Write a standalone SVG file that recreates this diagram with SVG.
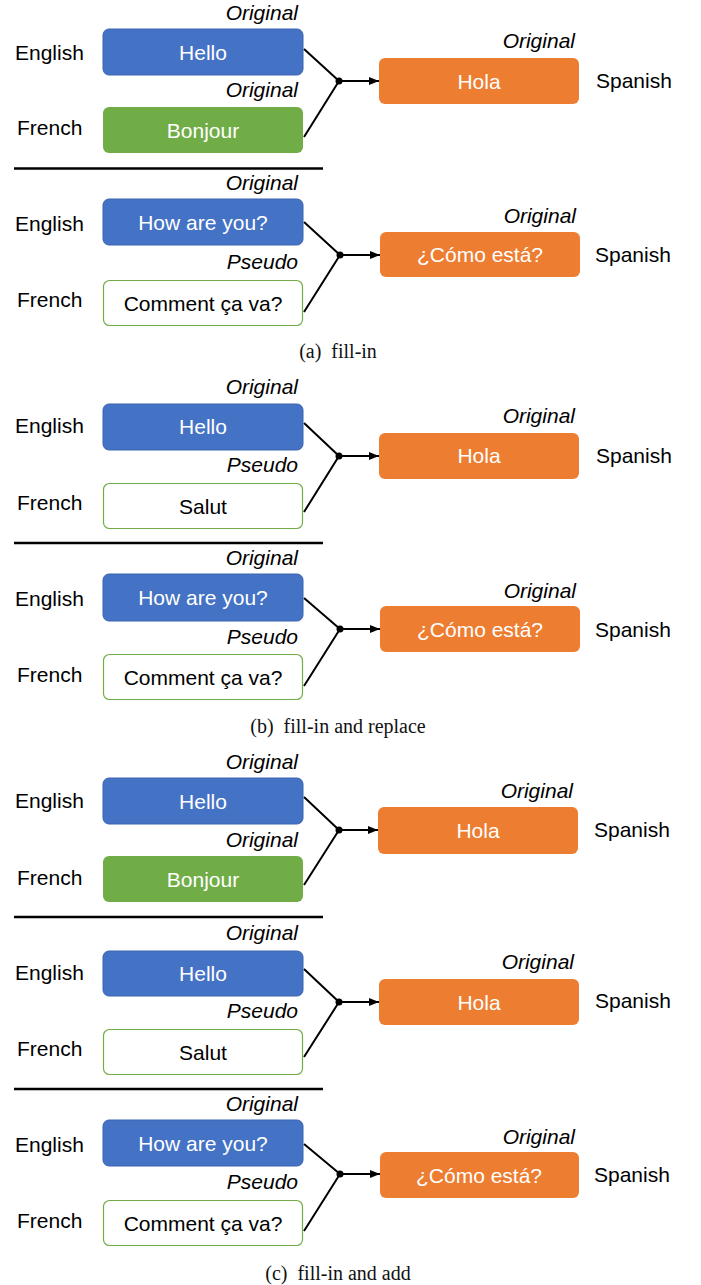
<svg xmlns="http://www.w3.org/2000/svg" width="701" height="1285" viewBox="0 0 701 1285">
<defs>
<style>
text{font-family:"Liberation Sans",Arial,sans-serif;font-size:21px;fill:#000}
.tag{font-style:italic;text-anchor:end}
.bt{text-anchor:middle;fill:#fff}
.bk{text-anchor:middle;fill:#000}
.blue{fill:#4472C4;stroke:#3A64B0;stroke-width:1}
.green{fill:#70AD47}
.ghost{fill:#fff;stroke:#70AD47;stroke-width:1.2}
.orange{fill:#ED7D31}
.conn{stroke:#000;stroke-width:2;fill:none}
.arr{stroke:#000;stroke-width:2;fill:none;marker-end:url(#ah)}
.sep{stroke:#000;stroke-width:2.5}
.cap{font-family:"Liberation Serif","Times New Roman",serif;font-size:20px;text-anchor:middle;fill:#111}
</style>
<marker id="ah" markerUnits="userSpaceOnUse" markerWidth="10" markerHeight="8" refX="10" refY="4" orient="auto">
<path d="M0,0 L10,4 L0,8 z" fill="#000"/>
</marker>
</defs>

<!-- separators -->
<g id="separators">
<line class="sep" x1="14" y1="168.5" x2="323" y2="168.5"/>
<line class="sep" x1="14" y1="543" x2="323" y2="543"/>
<line class="sep" x1="14" y1="917" x2="323" y2="917"/>
<line class="sep" x1="14" y1="1089" x2="323" y2="1089"/>
</g>

<!-- ===== Panel a1 ===== -->
<g id="a1-english"><text x="15" y="60">English</text></g>
<g id="a1-hello"><rect class="blue" x="103" y="29" width="200" height="46" rx="6"/><text class="bt" x="203" y="60">Hello</text><text class="tag" x="298" y="20">Original</text></g>
<g id="a1-french"><text x="17" y="135">French</text></g>
<g id="a1-bonjour"><rect class="green" x="103" y="107" width="200" height="46" rx="6"/><text class="bt" x="203" y="138">Bonjour</text><text class="tag" x="298" y="97">Original</text></g>
<g id="a1-hola"><rect class="orange" x="379" y="58" width="200" height="46" rx="6"/><text class="bt" x="479" y="89">Hola</text><text class="tag" x="575" y="48">Original</text></g>
<g id="a1-spanish"><text x="596" y="88">Spanish</text></g>

<!-- ===== Panel a2 ===== -->
<g id="a2-english"><text x="15" y="231">English</text></g>
<g id="a2-how"><rect class="blue" x="103" y="199" width="200" height="46" rx="6"/><text class="bt" x="203" y="230">How are you?</text><text class="tag" x="298" y="190">Original</text></g>
<g id="a2-french"><text x="17" y="307">French</text></g>
<g id="a2-comment"><rect class="ghost" x="103.5" y="280.5" width="199" height="45" rx="6"/><text class="bk" x="203" y="311">Comment ça va?</text><text class="tag" x="298" y="269">Pseudo</text></g>
<g id="a2-como"><rect class="orange" x="380" y="232" width="200" height="45" rx="6"/><text class="bt" x="480" y="262">¿Cómo está?</text><text class="tag" x="576" y="223">Original</text></g>
<g id="a2-spanish"><text x="595" y="262">Spanish</text></g>

<g id="cap-a"><text class="cap" x="338" y="358">(a)&#160; fill-in</text></g>

<!-- ===== Panel b1 ===== -->
<g id="b1-english"><text x="15" y="433">English</text></g>
<g id="b1-hello"><rect class="blue" x="103" y="404" width="200" height="46" rx="6"/><text class="bt" x="203" y="434">Hello</text><text class="tag" x="298" y="394">Original</text></g>
<g id="b1-french"><text x="17" y="510">French</text></g>
<g id="b1-salut"><rect class="ghost" x="103.5" y="483.5" width="199" height="45" rx="6"/><text class="bk" x="203" y="514">Salut</text><text class="tag" x="298" y="472">Pseudo</text></g>
<g id="b1-hola"><rect class="orange" x="379" y="433" width="200" height="46" rx="6"/><text class="bt" x="479" y="463">Hola</text><text class="tag" x="575" y="423">Original</text></g>
<g id="b1-spanish"><text x="596" y="463">Spanish</text></g>

<!-- ===== Panel b2 ===== -->
<g id="b2-english"><text x="15" y="606">English</text></g>
<g id="b2-how"><rect class="blue" x="103" y="574" width="200" height="47" rx="6"/><text class="bt" x="203" y="605">How are you?</text><text class="tag" x="298" y="565">Original</text></g>
<g id="b2-french"><text x="17" y="682">French</text></g>
<g id="b2-comment"><rect class="ghost" x="103.5" y="654.5" width="199" height="45" rx="6"/><text class="bk" x="203" y="685">Comment ça va?</text><text class="tag" x="298" y="644">Pseudo</text></g>
<g id="b2-como"><rect class="orange" x="380" y="606" width="200" height="46" rx="6"/><text class="bt" x="480" y="637">¿Cómo está?</text><text class="tag" x="576" y="598">Original</text></g>
<g id="b2-spanish"><text x="595" y="637">Spanish</text></g>

<g id="cap-b"><text class="cap" x="338" y="733">(b)&#160; fill-in and replace</text></g>

<!-- ===== Panel c1 ===== -->
<g id="c1-english"><text x="15" y="808">English</text></g>
<g id="c1-hello"><rect class="blue" x="103" y="778" width="200" height="46" rx="6"/><text class="bt" x="203" y="809">Hello</text><text class="tag" x="298" y="769">Original</text></g>
<g id="c1-french"><text x="17" y="885">French</text></g>
<g id="c1-bonjour"><rect class="green" x="103" y="856" width="200" height="46" rx="6"/><text class="bt" x="203" y="887">Bonjour</text><text class="tag" x="298" y="847">Original</text></g>
<g id="c1-hola"><rect class="orange" x="378" y="807" width="200" height="47" rx="6"/><text class="bt" x="478" y="838">Hola</text><text class="tag" x="573" y="798">Original</text></g>
<g id="c1-spanish"><text x="594" y="837">Spanish</text></g>

<!-- ===== Panel c2 ===== -->
<g id="c2-english"><text x="15" y="980">English</text></g>
<g id="c2-hello"><rect class="blue" x="103" y="951" width="200" height="45" rx="6"/><text class="bt" x="203" y="981">Hello</text><text class="tag" x="298" y="940">Original</text></g>
<g id="c2-french"><text x="17" y="1056">French</text></g>
<g id="c2-salut"><rect class="ghost" x="103.5" y="1029.5" width="199" height="45" rx="6"/><text class="bk" x="203" y="1060">Salut</text><text class="tag" x="298" y="1018">Pseudo</text></g>
<g id="c2-hola"><rect class="orange" x="379" y="979" width="200" height="46" rx="6"/><text class="bt" x="479" y="1010">Hola</text><text class="tag" x="574" y="969">Original</text></g>
<g id="c2-spanish"><text x="595" y="1008">Spanish</text></g>

<!-- ===== Panel c3 ===== -->
<g id="c3-english"><text x="15" y="1152">English</text></g>
<g id="c3-how"><rect class="blue" x="103" y="1120" width="200" height="46" rx="6"/><text class="bt" x="203" y="1151">How are you?</text><text class="tag" x="298" y="1111">Original</text></g>
<g id="c3-french"><text x="17" y="1228">French</text></g>
<g id="c3-comment"><rect class="ghost" x="103.5" y="1200.5" width="199" height="45" rx="6"/><text class="bk" x="203" y="1231">Comment ça va?</text><text class="tag" x="298" y="1189">Pseudo</text></g>
<g id="c3-como"><rect class="orange" x="380" y="1152" width="199" height="46" rx="6"/><text class="bt" x="479" y="1183">¿Cómo está?</text><text class="tag" x="575" y="1144">Original</text></g>
<g id="c3-spanish"><text x="594" y="1182">Spanish</text></g>

<g id="cap-c"><text class="cap" x="338" y="1280">(c)&#160; fill-in and add</text></g>

<!-- ===== connectors ===== -->
<g id="connectors">
<path class="conn" d="M304,49 L339,81 M304,137 L339,81"/><path class="arr" d="M339,81 L379,81"/><circle cx="339" cy="81" r="3.5"/>
<path class="conn" d="M304,222 L340,255 M304,312 L340,255"/><path class="arr" d="M340,255 L380,255"/><circle cx="340" cy="255" r="3.5"/>
<path class="conn" d="M304,423 L339,456 M304,512 L339,456"/><path class="arr" d="M339,456 L379,456"/><circle cx="339" cy="456" r="3.5"/>
<path class="conn" d="M304,598 L340,629 M304,686 L340,629"/><path class="arr" d="M340,629 L380,629"/><circle cx="340" cy="629" r="3.5"/>
<path class="conn" d="M304,797 L339,830 M304,885 L339,830"/><path class="arr" d="M339,830 L378,830"/><circle cx="339" cy="830" r="3.5"/>
<path class="conn" d="M304,969 L339,1002 M304,1057 L339,1002"/><path class="arr" d="M339,1002 L379,1002"/><circle cx="339" cy="1002" r="3.5"/>
<path class="conn" d="M304,1144 L340,1174 M304,1231 L340,1174"/><path class="arr" d="M340,1174 L380,1174"/><circle cx="340" cy="1174" r="3.5"/>
</g>
</svg>
